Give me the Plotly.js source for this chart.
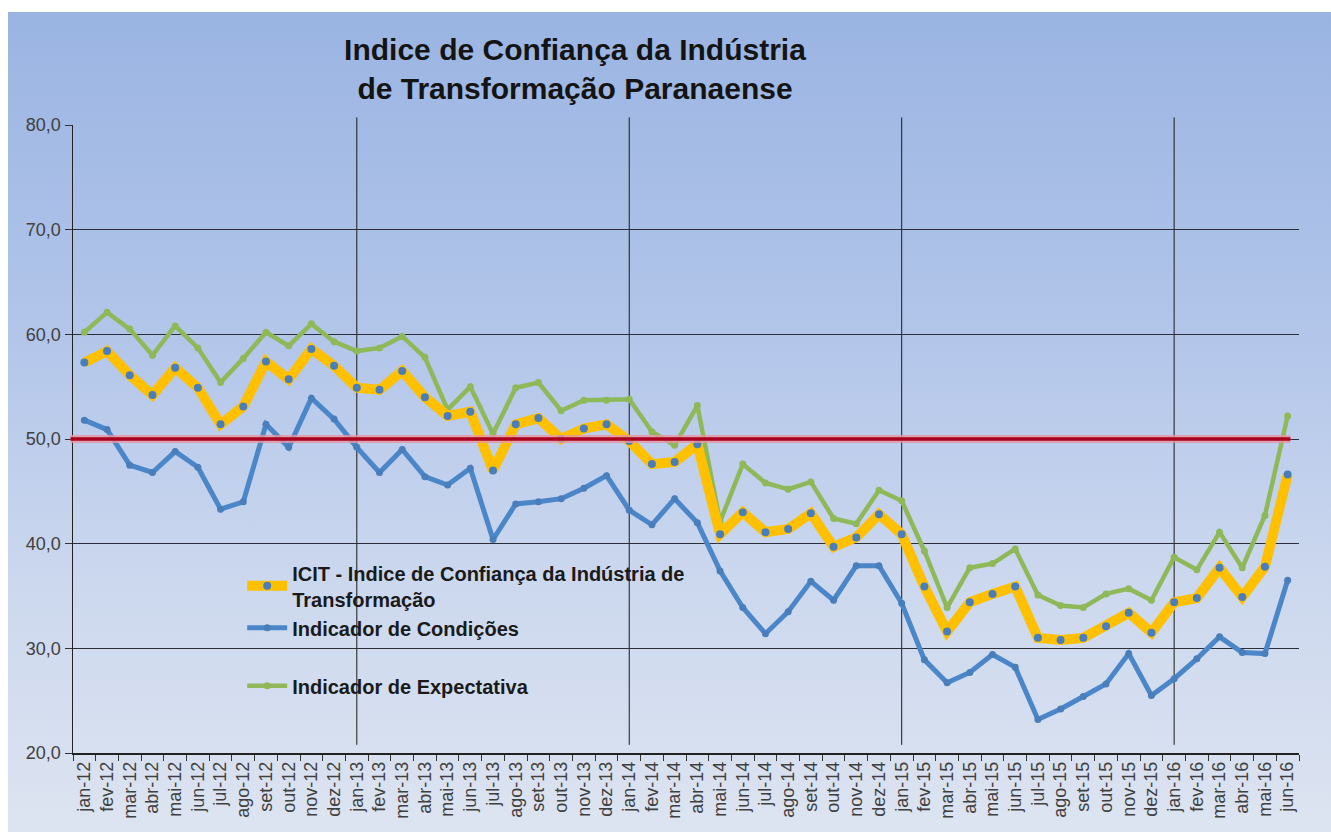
<!DOCTYPE html>
<html>
<head>
<meta charset="utf-8">
<script src="https://cdn.plot.ly/plotly-3.0.1.min.js"></script>
<style>
  html, body { margin: 0; padding: 0; background: #ffffff; }
  #bg { position: absolute; left: 8px; top: 12px; width: 1323px; height: 820px;
        background: linear-gradient(to bottom, #9AB4E2 0%, #B3C6EA 40%, #CCD8EE 70%, #DDE4F1 100%); }
  #chart { position: absolute; left: 0; top: 0; width: 1331px; height: 832px; }
</style>
</head>
<body>
<div id="bg"></div>
<div id="chart"></div>
<script>
const months = ["jan-12","fev-12","mar-12","abr-12","mai-12","jun-12","jul-12","ago-12","set-12","out-12","nov-12","dez-12",
  "jan-13","fev-13","mar-13","abr-13","mai-13","jun-13","jul-13","ago-13","set-13","out-13","nov-13","dez-13",
  "jan-14","fev-14","mar-14","abr-14","mai-14","jun-14","jul-14","ago-14","set-14","out-14","nov-14","dez-14",
  "jan-15","fev-15","mar-15","abr-15","mai-15","jun-15","jul-15","ago-15","set-15","out-15","nov-15","dez-15",
  "jan-16","fev-16","mar-16","abr-16","mai-16","jun-16"];

const icit = [57.3,58.4,56.1,54.2,56.8,54.9,51.4,53.1,57.4,55.7,58.6,57.0,
  54.9,54.7,56.5,54.0,52.2,52.6,47.0,51.4,52.0,50.0,51.0,51.4,
  49.8,47.6,47.8,49.5,40.9,43.0,41.1,41.4,42.9,39.7,40.6,42.8,
  40.9,35.9,31.6,34.4,35.2,35.9,31.0,30.8,31.0,32.1,33.4,31.5,
  34.4,34.8,37.7,34.9,37.8,46.6];

const condicoes = [51.8,50.9,47.5,46.8,48.8,47.3,43.3,44.0,51.4,49.2,53.9,51.9,
  49.2,46.8,49.0,46.4,45.6,47.2,40.4,43.8,44.0,44.3,45.3,46.5,
  43.2,41.8,44.3,42.0,37.4,33.9,31.4,33.5,36.4,34.6,37.9,37.9,
  34.3,28.9,26.7,27.7,29.4,28.2,23.2,24.2,25.4,26.6,29.5,25.5,
  27.1,29.0,31.1,29.6,29.5,36.5];

const expectativa = [60.2,62.1,60.5,58.0,60.8,58.7,55.4,57.7,60.2,58.9,61.0,59.3,
  58.4,58.7,59.8,57.8,52.8,55.0,50.5,54.9,55.4,52.7,53.7,53.7,
  53.8,50.7,49.4,53.2,42.1,47.6,45.8,45.2,45.9,42.4,41.9,45.1,
  44.1,39.3,33.9,37.7,38.1,39.5,35.1,34.1,33.9,35.2,35.7,34.6,
  38.7,37.5,41.1,37.7,42.7,52.2];

const yearStarts = ["jan-13","jan-14","jan-15","jan-16"];
const referenceLevel = 50;

const titleText = "Indice de Confiança da Indústria<br>de Transformação Paranaense";
const nameIcit = "ICIT - Indice de Confiança da Indústria de<br>Transformação";
const nameCond = "Indicador de Condições";
const nameExp = "Indicador de Expectativa";

const traces = [
  { x: months, y: expectativa, name: nameExp, type: "scatter", mode: "lines+markers",
    line: { color: "#8FB858", width: 4.5 }, marker: { color: "#8FB858", size: 7 },
    legendgroup: "b", legendrank: 3 },
  { x: months, y: icit, name: nameIcit, type: "scatter", mode: "lines+markers",
    line: { color: "#FFC000", width: 10 }, marker: { color: "#4A7EBB", size: 8 },
    legendgroup: "a", legendrank: 1 },
  { x: months, y: condicoes, name: nameCond, type: "scatter", mode: "lines+markers",
    line: { color: "#4A86C8", width: 5 }, marker: { color: "#4A7EBB", size: 7 },
    legendgroup: "a", legendrank: 2 }
];

const shapes = [];
yearStarts.forEach(m => {
  shapes.push({ type: "line", xref: "x", yref: "paper", x0: m, x1: m, y0: 0.013, y1: 1.012,
    line: { color: "#1a1a1a", width: 1 }, layer: "below" });
});
shapes.push({ type: "line", xref: "paper", yref: "y", x0: -0.002, x1: 0.993, y0: referenceLevel, y1: referenceLevel,
  line: { color: "rgba(230,150,160,0.8)", width: 8 }, layer: "above" });
shapes.push({ type: "line", xref: "paper", yref: "y", x0: -0.002, x1: 0.993, y0: referenceLevel, y1: referenceLevel,
  line: { color: "#A8001E", width: 3.5 }, layer: "above" });

const layout = {
  width: 1331, height: 832,
  paper_bgcolor: "rgba(0,0,0,0)", plot_bgcolor: "rgba(0,0,0,0)",
  margin: { l: 72.5, r: 32, t: 125, b: 79 },
  separators: ",.",
  font: { family: "Liberation Sans, Arial, sans-serif", color: "#404040" },
  title: { text: titleText, x: 0.432, xref: "container", xanchor: "center",
           y: 0.928, yref: "container", yanchor: "top",
           font: { size: 30, color: "#141414", family: "Liberation Sans, Arial, sans-serif", weight: "bold" } },
  xaxis: { type: "category", tickangle: -90, tickson: "boundaries", ticks: "outside", ticklen: 6,
           tickcolor: "#333333", showgrid: false, showline: true, linecolor: "#222222", linewidth: 1.5,
           tickfont: { size: 18, color: "#404040" }, range: [-0.5, 53.5], fixedrange: true },
  yaxis: { range: [20, 80], dtick: 10, tickformat: ".1f", ticks: "outside", ticklen: 7, tickcolor: "#333333",
           showgrid: true, gridcolor: "#2a2f3a", gridwidth: 1, zeroline: false,
           showline: true, linecolor: "#222222", linewidth: 1.5,
           tickfont: { size: 18, color: "#404040" }, fixedrange: true },
  showlegend: true,
  legend: { x: 0.138, y: 0.318, xanchor: "left", yanchor: "top", bgcolor: "rgba(0,0,0,0)",
            font: { size: 20, color: "#1a1a1a", weight: "bold" }, tracegroupgap: 29, itemwidth: 40 },
  shapes: shapes
};

Plotly.newPlot("chart", traces, layout, { staticPlot: true, displayModeBar: false });
</script>
</body>
</html>
